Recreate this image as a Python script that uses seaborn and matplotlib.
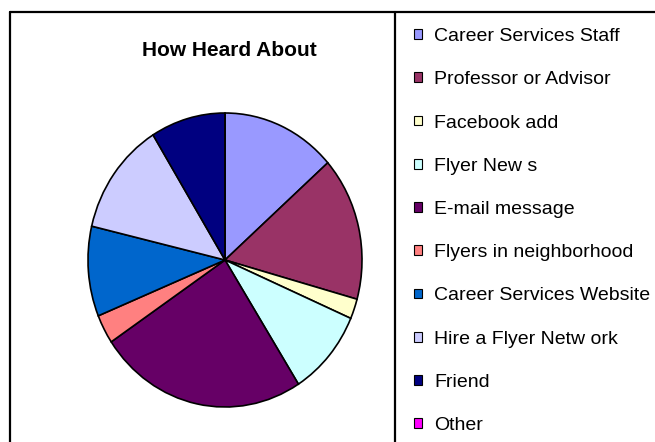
import matplotlib
matplotlib.use("Agg")
import matplotlib.pyplot as plt
import seaborn as sns
from matplotlib.patches import Patch
from matplotlib.lines import Line2D

# how respondents heard about it (share of answers)
sources = ["Career Services Staff", "Professor or Advisor", "Facebook add",
           "Flyer New s", "E-mail message", "Flyers in neighborhood",
           "Career Services Website", "Hire a Flyer Netw ork", "Friend", "Other"]
shares = [13.5, 15.8, 2.2, 9.5, 24.6, 3.2, 9.9, 12.5, 8.8, 0.0]
colors = ["#9999FF", "#993366", "#FFFFCC", "#CCFFFF", "#660066",
          "#FF8080", "#0066CC", "#CCCCFF", "#000080", "#FF00FF"]

sns.set_theme(style="white")
plt.rcParams['font.family'] = ['Liberation Sans', 'DejaVu Sans']
plt.rcParams['text.color'] = 'black'

W, H = 655, 442
fig = plt.figure(figsize=(6.55, 4.42), dpi=100)
fig.patch.set_facecolor('white')

# pie is a bit taller than wide in the original
cx, cy, rx, ry = 225, 260, 137, 147
ax = fig.add_axes([(cx - rx) / W, (H - cy - ry) / H, 2 * rx / W, 2 * ry / H])
ax.pie(shares, colors=colors, startangle=90, counterclock=False,
       wedgeprops=dict(edgecolor='black', linewidth=1.2, clip_on=False))
ax.set_aspect('auto')
ax.set_xlim(-1, 1)
ax.set_ylim(-1, 1)
ax.axis('off')

fig.text(229 / W, 1 - 50 / H, "How Heard About", ha='center', va='center',
         fontsize=15, fontweight='bold', color='black')

# outer frame and legend box
def fline(x0, y0, x1, y1):
    fig.add_artist(Line2D([x0 / W, x1 / W], [1 - y0 / H, 1 - y1 / H],
                          transform=fig.transFigure, color='black', lw=1.6))

fline(10, 12, 655, 12)
fline(10, 12, 10, 442)
fline(395, 12, 395, 442)

handles = [Patch(facecolor=c, edgecolor='black', linewidth=0.8) for c in colors]
fig.legend(handles, sources, loc='upper left', bbox_to_anchor=(414 / W, 1 - 28 / H),
           frameon=False, fontsize=14, handlelength=0.4, handleheight=0.4,
           handletextpad=0.65, labelspacing=1.35, borderaxespad=0, borderpad=0,
           labelcolor='black')

fig.savefig("out.png", dpi=100)
